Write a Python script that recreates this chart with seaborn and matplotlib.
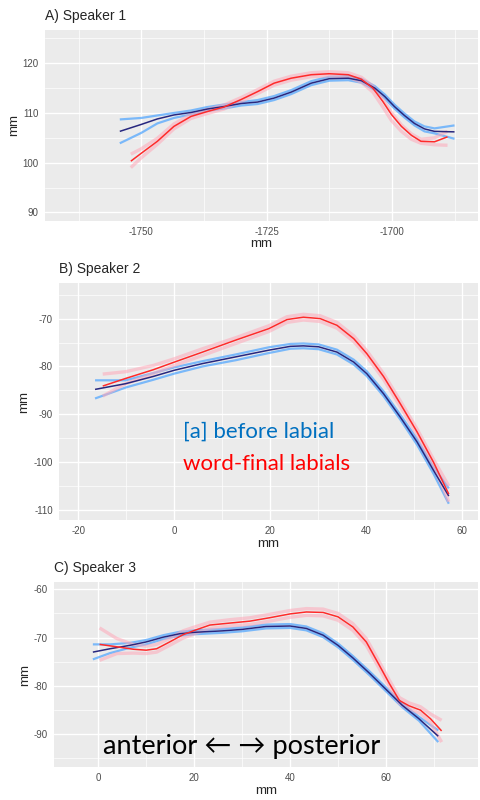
import matplotlib
matplotlib.use("Agg")
import matplotlib.pyplot as plt
from matplotlib.ticker import MultipleLocator
import numpy as np
import pandas as pd
import seaborn as sns

# ---- Speaker 1 ----
s1_lab_x = [-1754.3, -1750, -1746.8, -1743.5, -1740.1, -1736.8, -1733.5, -1730.1, -1726.8, -1723.5,
            -1720.1, -1716.1, -1712.5, -1708.7, -1706.1, -1703.4, -1701.4, -1699.5, -1697.5, -1695.5,
            -1693.5, -1691.5, -1687.5]
s1_lab_mean = [106.3, 107.7, 108.8, 109.6, 110.1, 110.8, 111.3, 111.9, 112.2, 113.0, 114.2, 116.0,
               116.9, 117.0, 116.5, 115.0, 113.3, 111.3, 109.5, 107.9, 106.8, 106.3, 106.2]
s1_lab_hi = [108.7, 109.0, 109.5, 110.0, 110.5, 111.2, 111.7, 112.2, 112.6, 113.4, 114.6, 116.4,
             117.3, 117.4, 116.9, 115.4, 113.7, 111.7, 109.9, 108.3, 107.3, 106.9, 107.5]
s1_lab_lo = [103.9, 106.0, 107.9, 109.0, 109.7, 110.4, 110.9, 111.5, 111.8, 112.6, 113.8, 115.6,
             116.5, 116.6, 116.1, 114.6, 112.9, 110.9, 109.1, 107.5, 106.3, 105.9, 104.8]

s1_fin_x = [-1752.1, -1750, -1746.8, -1743.5, -1740.1, -1736.8, -1733.5, -1730.1, -1726.8, -1723.5,
            -1720.1, -1716.1, -1712.5, -1708.7, -1706.1, -1703.8, -1701.8, -1700.1, -1698.1, -1696.1,
            -1694.2, -1691.5, -1688.9]
s1_fin_mean = [100.3, 101.9, 104.3, 107.3, 109.3, 110.3, 111.2, 112.7, 114.3, 116.0, 117.0, 117.7,
               117.9, 117.7, 116.8, 115.0, 112.3, 109.7, 107.3, 105.5, 104.3, 104.2, 105.2]
s1_fin_hi = [101.7, 102.8, 104.9, 107.8, 109.7, 110.7, 111.6, 113.1, 114.7, 116.4, 117.4, 118.1,
             118.3, 118.1, 117.2, 115.4, 112.7, 110.1, 107.6, 105.8, 104.7, 105.0, 106.3]
s1_fin_lo = [99.0, 101.0, 103.7, 106.8, 108.9, 109.9, 110.8, 112.3, 113.9, 115.6, 116.6, 117.3,
             117.5, 117.2, 116.2, 114.2, 111.2, 108.5, 106.3, 104.7, 103.9, 103.6, 103.5]

# ---- Speaker 2 ----
s2_lab_x = [-16.5, -10.1, -4.4, 0, 5.9, 12.8, 19.7, 24.2, 26.9, 30.1, 33.9, 37.4, 40.1, 43.6, 47.1,
            50.6, 54.0, 57.2]
s2_lab_mean = [-84.8, -83.6, -82.1, -80.8, -79.4, -78.0, -76.6, -75.8, -75.7, -75.9, -77.0, -79.1,
               -81.5, -85.7, -90.6, -95.8, -101.7, -107.1]
s2_lab_hi = [-82.9, -82.9, -81.4, -80.2, -78.9, -77.5, -76.0, -75.3, -75.2, -75.4, -76.5, -78.6,
             -81.0, -85.2, -90.1, -95.2, -101.0, -105.5]
s2_lab_lo = [-86.7, -84.4, -82.8, -81.5, -80.0, -78.7, -77.2, -76.3, -76.2, -76.4, -77.5, -79.6,
             -82.0, -86.2, -91.1, -96.4, -102.4, -108.7]

s2_fin_x = [-14.9, -10.1, -4.4, 0, 5.9, 12.8, 19.7, 23.5, 26.9, 30.4, 33.9, 37.4, 40.1, 43.6, 47.1,
            50.6, 54.0, 57.2]
s2_fin_mean = [-84.1, -82.5, -80.7, -79.1, -77.0, -74.5, -72.1, -70.2, -69.7, -70.0, -71.4, -74.2,
               -77.3, -82.1, -87.8, -93.7, -100.0, -106.7]
s2_fin_hi = [-81.6, -81.1, -79.8, -78.4, -76.3, -74.0, -71.5, -69.6, -69.1, -69.4, -70.8, -73.6,
             -76.7, -81.5, -87.2, -93.1, -99.4, -105.0]
s2_fin_lo = [-86.2, -83.6, -81.5, -79.8, -77.7, -75.2, -72.7, -70.8, -70.3, -70.6, -72.0, -74.8,
             -77.9, -82.7, -88.4, -94.3, -100.6, -108.3]

# ---- Speaker 3 ----
s3_lab_x = [-1.1, 2.5, 6.6, 10.0, 13.6, 17.0, 20.1, 26.0, 30.0, 35.0, 40.0, 43.4, 46.9, 50.0, 53.1,
            56.6, 60.0, 63.4, 66.9, 70.9]
s3_lab_mean = [-73.0, -72.3, -71.6, -70.9, -69.9, -69.2, -68.9, -68.6, -68.3, -67.7, -67.6, -68.1,
               -69.5, -71.6, -74.2, -77.4, -80.7, -84.0, -86.8, -90.4]
s3_lab_hi = [-71.4, -71.4, -71.1, -70.5, -69.5, -68.8, -68.5, -68.2, -67.9, -67.3, -67.2, -67.7,
             -69.1, -71.2, -73.8, -77.0, -80.3, -83.6, -86.4, -89.2]
s3_lab_lo = [-74.5, -73.2, -72.1, -71.4, -70.3, -69.6, -69.3, -69.0, -68.7, -68.1, -68.0, -68.5,
             -69.9, -72.0, -74.6, -77.8, -81.1, -84.4, -87.2, -91.6]

s3_fin_x = [0.3, 3.9, 7.3, 10.0, 12.2, 14.9, 17.7, 20.1, 23.3, 27.4, 31.6, 35.7, 40.0, 43.4, 46.9,
            50.0, 53.1, 55.9, 58.6, 60.7, 62.8, 64.8, 67.2, 69.3, 71.6]
s3_fin_mean = [-71.4, -71.9, -72.4, -72.6, -72.3, -70.9, -69.4, -68.5, -67.4, -67.0, -66.6, -65.9,
               -65.1, -64.7, -64.8, -65.7, -67.8, -70.9, -75.7, -79.5, -83.0, -84.1, -85.0, -86.8,
               -89.3]
s3_fin_hi = [-68.0, -70.2, -71.4, -71.8, -71.4, -70.2, -68.6, -67.8, -66.8, -66.3, -65.9, -65.2,
             -64.4, -64.0, -64.1, -65.0, -67.1, -70.2, -75.0, -78.8, -82.4, -83.5, -84.3, -85.8,
             -87.1]
s3_fin_lo = [-74.7, -73.3, -73.2, -73.3, -73.0, -71.6, -70.1, -69.2, -68.1, -67.6, -67.3, -66.6,
             -65.8, -65.4, -65.5, -66.4, -68.5, -71.6, -76.4, -80.2, -83.6, -84.7, -85.7, -87.6,
             -91.6]

titles = ["A) Speaker 1", "B) Speaker 2", "C) Speaker 3"]

NAVY = "#27277f"
LIGHTBLUE = "#4aa3ff"
RED = "#ff2a2a"
PINK = "#ffa8b8"


def _line(ax, x, y, color, lw, alpha=1.0):
    df = pd.DataFrame({"x": x, "y": y})
    sns.lineplot(data=df, x="x", y="y", ax=ax, color=color, linewidth=lw,
                 alpha=alpha, errorbar=None, sort=False,
                 solid_joinstyle="round", solid_capstyle="butt")


def _draw_bands(ax, x, lo, hi, band):
    if band == PINK:
        _line(ax, x, lo, band, 2.4, 0.55)
        _line(ax, x, hi, band, 2.4, 0.55)
    else:
        _line(ax, x, lo, band, 1.6, 0.7)
        _line(ax, x, hi, band, 1.6, 0.7)


def _style(ax, title, xlim, ylim, xmaj, ymaj):
    ax.set_facecolor("#EBEBEB")
    for s in ax.spines.values():
        s.set_visible(False)
    ax.set_xlim(*xlim)
    ax.set_ylim(*ylim)
    ax.xaxis.set_major_locator(MultipleLocator(xmaj))
    ax.xaxis.set_minor_locator(MultipleLocator(xmaj / 2))
    ax.yaxis.set_major_locator(MultipleLocator(ymaj))
    ax.yaxis.set_minor_locator(MultipleLocator(ymaj / 2))
    ax.grid(which="major", color="white", linewidth=1.0)
    ax.grid(which="minor", color="white", linewidth=0.5)
    ax.set_axisbelow(True)
    ax.tick_params(which="major", length=2.5, width=0.8, color="#333333",
                   labelcolor="#4d4d4d", labelsize=7, pad=2)
    ax.tick_params(which="minor", length=0)
    ax.set_xlabel("mm", fontsize=9.5, labelpad=1)
    ax.set_ylabel("mm", fontsize=9.5, labelpad=2)
    ax.set_title(title, loc="left", fontsize=10, pad=7)


sns.set_theme(style="darkgrid")
plt.rcParams["font.family"] = ["Liberation Sans", "DejaVu Sans"]
plt.rcParams["axes.unicode_minus"] = False

fig = plt.figure(figsize=(4.8, 8), dpi=100)
fig.patch.set_facecolor("white")

ax1 = fig.add_axes([0.094, 0.724, 0.902, 0.2385])
ax2 = fig.add_axes([0.123, 0.35, 0.873, 0.296])
ax3 = fig.add_axes([0.1125, 0.041, 0.8835, 0.2315])

panels = [
    (ax1, (s1_lab_x, s1_lab_mean, s1_lab_lo, s1_lab_hi), (s1_fin_x, s1_fin_mean, s1_fin_lo, s1_fin_hi),
     (-1769.2, -1682.8), (88.3, 126.7), 25, 10),
    (ax2, (s2_lab_x, s2_lab_mean, s2_lab_lo, s2_lab_hi), (s2_fin_x, s2_fin_mean, s2_fin_lo, s2_fin_hi),
     (-24.0, 63.3), (-112.1, -62.6), 20, 10),
    (ax3, (s3_lab_x, s3_lab_mean, s3_lab_lo, s3_lab_hi), (s3_fin_x, s3_fin_mean, s3_fin_lo, s3_fin_hi),
     (-9.2, 79.2), (-96.8, -58.5), 20, 10),
]

for (ax, lab, fin, xlim, ylim, xmaj, ymaj), title in zip(panels, titles):
    lx, lmean, llo, lhi = lab
    fx, fmean, flo, fhi = fin
    _draw_bands(ax, lx, llo, lhi, LIGHTBLUE)
    _draw_bands(ax, fx, flo, fhi, PINK)
    _line(ax, lx, lmean, NAVY, 1.1)
    _line(ax, fx, fmean, RED, 1.1)
    _style(ax, title, xlim, ylim, xmaj, ymaj)

ax2.text(1.8, -93.7, "[a] before labial", color="#0070C0", fontsize=16,
         family=["Lato", "DejaVu Sans"], va="center", ha="left")
ax2.text(1.8, -100.4, "word-final labials", color="#FF0000", fontsize=16,
         family=["Lato", "DejaVu Sans"], va="center", ha="left")
ax3.text(1.0, -92.5, "anterior \u2190 \u2192 posterior", color="black", fontsize=19.5,
         family=["Lato", "DejaVu Sans"], va="center", ha="left")

fig.savefig("out.png", dpi=100)
